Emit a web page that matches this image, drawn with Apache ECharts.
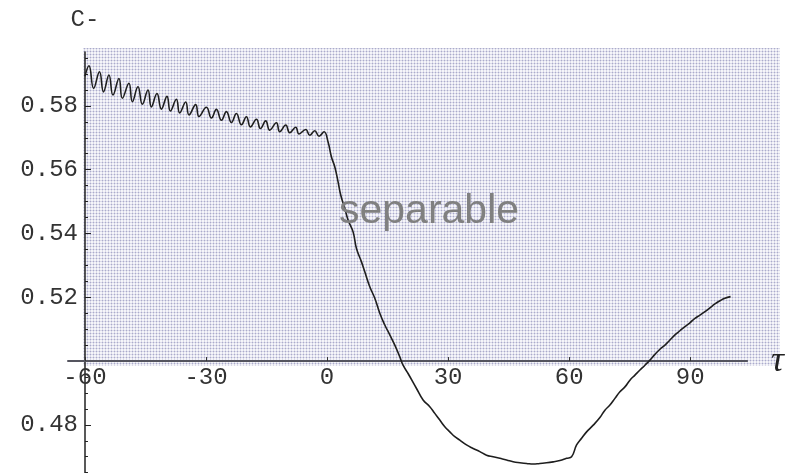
<!DOCTYPE html>
<html>
<head>
<meta charset="utf-8">
<script src="https://cdn.jsdelivr.net/npm/echarts@6/dist/echarts.min.js"></script>
<style>
html,body{margin:0;padding:0;background:#fff;}
#chart{width:787px;height:473px;}
</style>
</head>
<body>
<div id="chart"></div>
<script>
// ---- data ----
const tauValues = [
  -60.0, -59.0, -57.85, -56.4, -55.4, -54.05, -53.06, -51.57, -50.73, -49.1,
  -48.25, -46.86, -45.77, -44.38, -43.54, -42.15, -41.06, -39.67, -38.83, -37.34,
  -36.52, -35.03, -34.22, -32.56, -31.74, -29.9, -28.66, -27.42, -26.18, -24.94,
  -23.7, -22.46, -21.22, -19.98, -18.99, -17.5, -16.51, -15.2, -14.21, -12.55,
  -11.73, -10.24, -9.25, -7.76, -6.94, -5.28, -4.29, -3.05, -1.98, -0.74,
  0.25, 1.09, 1.91, 2.73, 3.40, 4.39, 5.21, 6.45, 7.29, 8.53,
  9.35, 10.59, 11.83, 13.07, 14.31, 15.55, 16.79, 18.03, 18.84, 20.08,
  22.17, 23.8, 25.46, 26.7, 27.94, 29.18, 30.42, 31.66, 32.9, 34.56,
  36.2, 37.86, 39.52, 41.16, 42.82, 44.48, 46.12, 47.78, 49.44, 51.08,
  52.74, 54.4, 56.04, 57.7, 59.36, 60.6, 61.84, 63.08, 64.32, 65.96,
  67.62, 68.86, 70.1, 71.34, 72.58, 73.82, 75.06, 76.3, 77.54, 78.78,
  80.02, 81.26, 82.5, 83.74, 84.98, 86.22, 87.45, 88.69, 89.93, 91.17,
  92.41, 93.65, 94.89, 96.13, 97.37, 98.6, 100.0
];
const cValues = [
  0.5893, 0.5926, 0.5855, 0.5907, 0.5844, 0.5897, 0.5834, 0.5886, 0.5824, 0.5871,
  0.5813, 0.5860, 0.5805, 0.5850, 0.5797, 0.5839, 0.5790, 0.5830, 0.5784, 0.5821,
  0.5778, 0.5812, 0.5772, 0.5804, 0.5767, 0.5796, 0.5762, 0.5789, 0.5755, 0.5782,
  0.5748, 0.5776, 0.5741, 0.5766, 0.5734, 0.5758, 0.5729, 0.5753, 0.5724, 0.5747,
  0.5719, 0.5740, 0.5716, 0.5733, 0.5712, 0.5726, 0.5708, 0.5722, 0.5705, 0.5719,
  0.5687, 0.5640, 0.5609, 0.5562, 0.5520, 0.5479, 0.5442, 0.5405, 0.5353, 0.5311,
  0.5280, 0.5233, 0.5197, 0.5150, 0.5113, 0.5082, 0.5050, 0.5013, 0.4987, 0.4961,
  0.4914, 0.4878, 0.4857, 0.4836, 0.4815, 0.4794, 0.4778, 0.4763, 0.4752, 0.4737,
  0.4726, 0.4716, 0.4705, 0.4700, 0.4695, 0.4690, 0.4684, 0.4681, 0.4679, 0.4677,
  0.4679, 0.4681, 0.4684, 0.4688, 0.4695, 0.4700, 0.4737, 0.4758, 0.4778, 0.4799,
  0.4823, 0.4846, 0.4862, 0.4883, 0.4904, 0.4919, 0.4940, 0.4956, 0.4972, 0.4987,
  0.5003, 0.5021, 0.5037, 0.5050, 0.5066, 0.5082, 0.5095, 0.5108, 0.5120, 0.5134,
  0.5144, 0.5155, 0.5167, 0.5179, 0.5189, 0.5197, 0.5202
];
const xTickValues = [-60, -30, 0, 30, 60, 90];
const yTickValues = [0.48, 0.52, 0.54, 0.56, 0.58];
const yMinorTickValues = [0.465, 0.47, 0.475, 0.485, 0.49, 0.495, 0.505, 0.51, 0.515,
  0.525, 0.53, 0.535, 0.545, 0.55, 0.555, 0.565, 0.57, 0.575, 0.585, 0.59, 0.595];
const yAxisTitle = 'C-';
const xAxisTitle = 'τ';
const annotation = 'separable';

// ---- layout ----
const xMin = -64.2, xMax = 104.1, yMin = 0.4649, yMax = 0.5969;
const gridLeft = 68, gridRight = 39, gridTop = 52, gridBottom = 0;
const W = 787, H = 473;
const gridW = W - gridLeft - gridRight, gridH = H - gridTop - gridBottom;
const xAxisCross = 0.5;   // x axis drawn at C = 0.5
const yAxisCross = -60;   // y axis drawn at tau = -60
const xOffset = -gridH * (xAxisCross - yMin) / (yMax - yMin);
const yOffset = -gridW * (yAxisCross - xMin) / (xMax - xMin);

// dotted mesh pattern
const pc = document.createElement('canvas');
pc.width = 3; pc.height = 3;
const pctx = pc.getContext('2d');
pctx.fillStyle = '#f5f5f9'; pctx.fillRect(0, 0, 3, 3);
pctx.fillStyle = '#dadae9'; pctx.fillRect(0, 0, 3, 1); pctx.fillRect(0, 0, 1, 3);
pctx.fillStyle = '#ababcb'; pctx.fillRect(0, 0, 1, 1);

const monoFont = 'Liberation Mono';
const chart = echarts.init(document.getElementById('chart'), null, {renderer: 'canvas'});
const data = tauValues.map((t, i) => [t, cValues[i]]);

const yAxisBase = {
  type: 'value', min: yMin, max: yMax, position: 'left', offset: yOffset,
  splitLine: {show: false}
};

chart.setOption({
  animation: false,
  backgroundColor: '#ffffff',
  grid: {left: gridLeft, right: gridRight, top: gridTop, bottom: gridBottom, containLabel: false},
  graphic: [
    {type: 'rect', z: -10, silent: true,
     shape: {x: 83, y: 48, width: 697, height: 318},
     style: {fill: {image: pc, repeat: 'repeat'}}},
    {type: 'text', z: 50, silent: true, x: 339, y: 212,
     style: {text: annotation, fill: '#808080', font: '41px "Liberation Sans", Arial, sans-serif',
             verticalAlign: 'middle', align: 'left'}}
  ],
  xAxis: {
    type: 'value', min: xMin, max: xMax, position: 'bottom', offset: xOffset,
    splitLine: {show: false},
    axisLine: {show: true, onZero: false, lineStyle: {color: '#55555f', width: 2}},
    axisTick: {show: true, inside: true, length: 4, customValues: xTickValues, lineStyle: {color: '#333', width: 1}},
    axisLabel: {customValues: xTickValues, formatter: v => String(v), fontFamily: monoFont,
                fontSize: 24, color: '#333', margin: 5},
    name: xAxisTitle, nameLocation: 'end', nameGap: 24,
    nameTextStyle: {fontFamily: 'Liberation Serif', fontStyle: 'italic', fontSize: 36, color: '#222',
                    verticalAlign: 'middle'}
  },
  yAxis: [
    Object.assign({}, yAxisBase, {
      axisLine: {show: true, onZero: false, lineStyle: {color: '#222', width: 1.5}},
      axisTick: {show: true, inside: true, length: 6, customValues: yTickValues, lineStyle: {color: '#222', width: 1}},
      axisLabel: {customValues: yTickValues, formatter: v => v.toFixed(2), fontFamily: monoFont,
                  fontSize: 24, color: '#333', margin: 7},
      name: yAxisTitle, nameLocation: 'end', nameGap: 20,
      nameTextStyle: {fontFamily: monoFont, fontSize: 24, color: '#333', align: 'center'}
    }),
    Object.assign({}, yAxisBase, {
      axisLine: {show: false, onZero: false},
      axisTick: {show: true, inside: true, length: 3, customValues: yMinorTickValues, lineStyle: {color: '#222', width: 1}},
      axisLabel: {show: false}
    })
  ],
  series: [{
    type: 'line', yAxisIndex: 0, data: data, showSymbol: false, smooth: 0.45,
    lineStyle: {color: '#1e1e1e', width: 1.6}, z: 5, silent: true
  }]
});
</script>
</body>
</html>
